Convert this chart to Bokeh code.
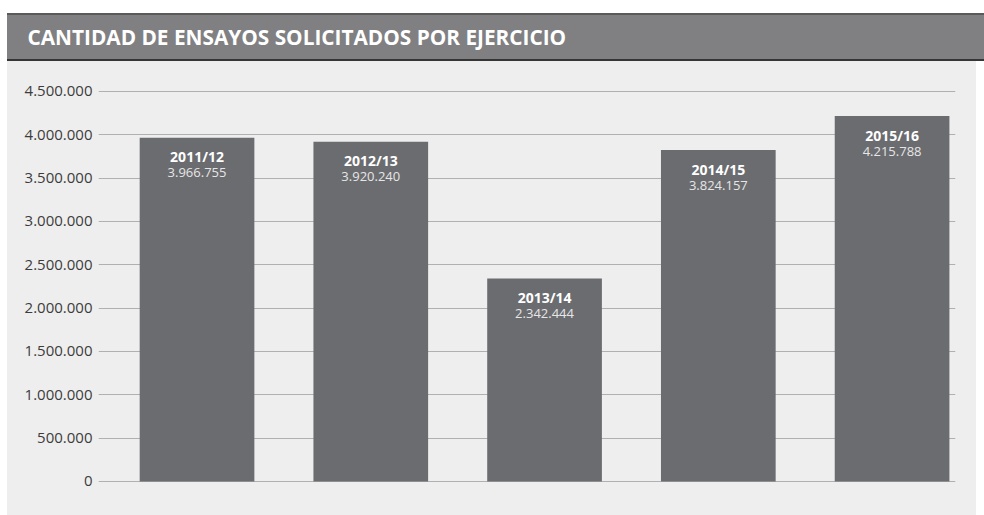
from bokeh.plotting import figure
from bokeh.layouts import column, row
from bokeh.models import FixedTicker, ColumnDataSource, Range1d, Spacer, Title
from bokeh.core.properties import value
from bokeh.embed import file_html
from bokeh.resources import INLINE

# ---- data ----
title_text = "CANTIDAD DE ENSAYOS SOLICITADOS POR EJERCICIO"
years = ["2011/12", "2012/13", "2013/14", "2014/15", "2015/16"]
values = [3966755, 3920240, 2342444, 3824157, 4215788]
tick_values = [0, 500000, 1000000, 1500000, 2000000, 2500000, 3000000, 3500000, 4000000, 4500000]
tick_labels = ["0", "500.000", "1.000.000", "1.500.000", "2.000.000", "2.500.000",
               "3.000.000", "3.500.000", "4.000.000", "4.500.000"]

BAR = "#6b6c70"
PANEL = "#eeeeee"
HEADER = "#808083"
FONT = "Open Sans"

# ---- header band ----
header = figure(width=977, height=44, x_axis_type=None, y_axis_type=None,
                x_range=Range1d(0, 1), y_range=Range1d(0, 1),
                toolbar_location=None, output_backend="svg",
                min_border_top=8, min_border_bottom=0, min_border_left=0, min_border_right=0,
                border_fill_color=HEADER, background_fill_color=HEADER,
                outline_line_color=None, title=None)
header.styles = {"background-color": HEADER}
header.add_layout(Title(text=title_text, align="left", offset=-71, text_color="white",
                        text_font=FONT, text_font_style="bold", text_font_size="20.8px",
                        background_fill_color=None), "above")

rule_top = Spacer(width=977, height=2, background="#5a5a5a")
rule_bot = Spacer(width=977, height=2, background="#353535")

# ---- main chart ----
src = ColumnDataSource(dict(
    x=list(range(len(years))),
    value=values,
    year=years,
    label=[f"{v:,}".replace(",", ".") for v in values],
))

p = figure(width=969, height=454, x_axis_type=None,
           x_range=Range1d(-0.567, 4.365), y_range=Range1d(-277000, 4742000),
           toolbar_location=None, output_backend="svg",
           min_border_left=91, min_border_right=21, min_border_top=9, min_border_bottom=10,
           border_fill_color=PANEL, background_fill_color=PANEL, outline_line_color=None)
p.styles = {"background-color": PANEL}

p.vbar(x="x", top="value", width=0.66, source=src, color=BAR, line_color=None)

p.text(x="x", y="value", text="year", source=src, text_align="center",
       text_baseline="middle", y_offset=19, text_font=value(FONT),
       text_font_style="bold", text_font_size="14px", text_color="white")
p.text(x="x", y="value", text="label", source=src, text_align="center",
       text_baseline="middle", y_offset=35, text_font=value(FONT),
       text_font_size="13px", text_color="#e6e6e6")

yax = p.yaxis[0]
yax.ticker = FixedTicker(ticks=tick_values)
yax.major_label_overrides = {t: l for t, l in zip(tick_values, tick_labels)}
yax.axis_line_color = None
yax.major_tick_line_color = None
yax.minor_tick_line_color = None
yax.major_tick_out = 0
yax.major_label_standoff = 6
yax.major_label_text_font = FONT
yax.major_label_text_font_size = "15px"
yax.major_label_text_color = "#3c3c3c"

p.xgrid.visible = False
p.ygrid.ticker = FixedTicker(ticks=tick_values)
p.ygrid.grid_line_color = "#b0b0b0"
p.ygrid.grid_line_width = 1
p.ygrid.level = "underlay"

body = column(Spacer(height=13), rule_top, header, rule_bot, p, spacing=0)
layout = row(Spacer(width=7), body, spacing=0)
open("out.html", "w").write(file_html(layout, INLINE))
